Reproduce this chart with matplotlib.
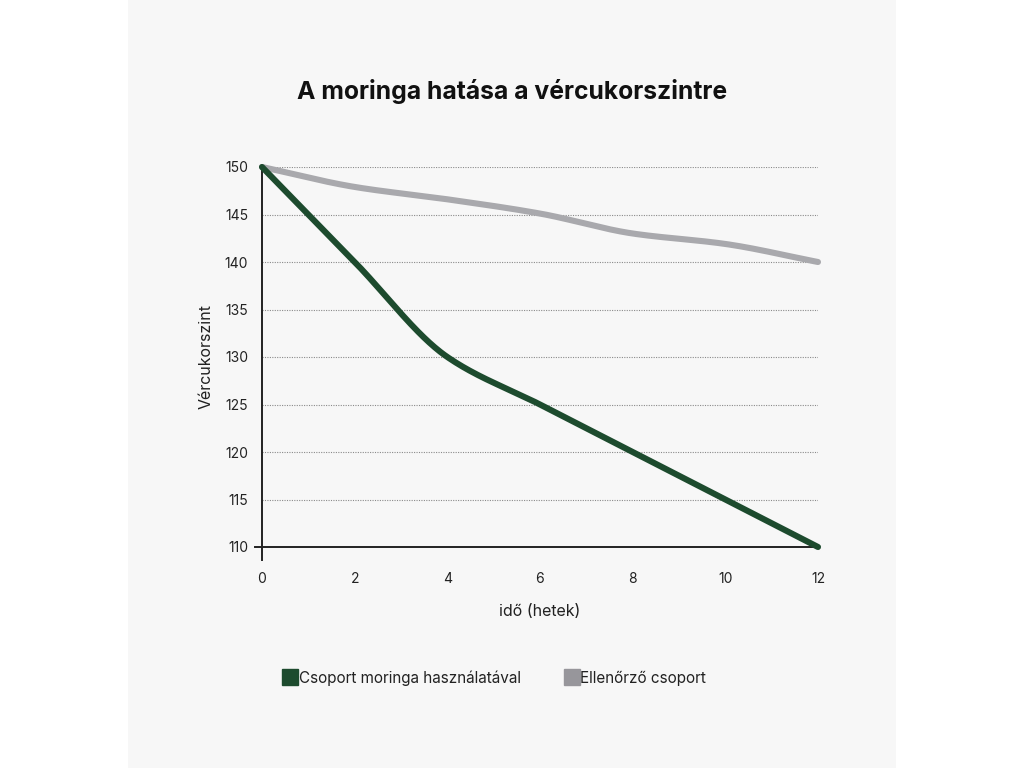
import numpy as np
import matplotlib
matplotlib.use("Agg")
import matplotlib.pyplot as plt
from matplotlib.lines import Line2D
from matplotlib.patches import Rectangle

plt.rcParams['font.family'] = ['Inter', 'DejaVu Sans']

# Data
weeks = [0, 2, 4, 6, 8, 10, 12]
moringa = [150, 140, 130, 125, 120, 115, 110]
control = [150, 147.9, 146.6, 145.1, 143, 141.9, 140]
x_ticks = [0, 2, 4, 6, 8, 10, 12]
y_ticks = [110, 115, 120, 125, 130, 135, 140, 145, 150]

title = "A moringa hatása a vércukorszintre"
x_label = "idő (hetek)"
y_label = "Vércukorszint"
series_names = ["Csoport moringa használatával", "Ellenőrző csoport"]

GREEN = "#1d4b2e"
GREY = "#a9a9ad"
GREY_LEG = "#97969b"
PANEL = "#f7f7f7"


def monotone_curve(x, y, n=400):
    """Fritsch-Carlson monotone cubic interpolation."""
    x = np.asarray(x, float)
    y = np.asarray(y, float)
    h = np.diff(x)
    d = np.diff(y) / h
    m = np.zeros_like(y)
    m[0], m[-1] = d[0], d[-1]
    for i in range(1, len(x) - 1):
        if d[i - 1] * d[i] <= 0:
            m[i] = 0
        else:
            w1 = 2 * h[i] + h[i - 1]
            w2 = h[i] + 2 * h[i - 1]
            m[i] = (w1 + w2) / (w1 / d[i - 1] + w2 / d[i])
    xs = np.linspace(x[0], x[-1], n)
    idx = np.clip(np.searchsorted(x, xs) - 1, 0, len(x) - 2)
    t = (xs - x[idx]) / h[idx]
    h00 = 2 * t**3 - 3 * t**2 + 1
    h10 = t**3 - 2 * t**2 + t
    h01 = -2 * t**3 + 3 * t**2
    h11 = t**3 - t**2
    ys = h00 * y[idx] + h10 * h[idx] * m[idx] + h01 * y[idx + 1] + h11 * h[idx] * m[idx + 1]
    return xs, ys


fig = plt.figure(figsize=(10.24, 7.68), dpi=100)
fig.patch.set_facecolor("white")
fig.patches.append(Rectangle((128 / 1024, 0), 768 / 1024, 1, transform=fig.transFigure,
                             facecolor=PANEL, edgecolor="none", zorder=-10))

ax = fig.add_axes([262 / 1024, 1 - 547 / 768, (818 - 262) / 1024, (547 - 167) / 768])
ax.set_zorder(1)
ax.set_facecolor("none")
ax.set_xlim(0, 12)
ax.set_ylim(110, 150)

for yv in y_ticks[1:]:
    ax.axhline(yv, color="#8a8a8a", linewidth=0.8, linestyle=(0, (1, 1.2)), zorder=1)

xs, ys = monotone_curve(weeks, control)
ax.plot(xs, ys, color=GREY, linewidth=4.4, solid_capstyle="round", zorder=3, clip_on=False)
xs, ys = monotone_curve(weeks, moringa)
ax.plot(xs, ys, color=GREEN, linewidth=4.4, solid_capstyle="round", zorder=4, clip_on=False)

for s in ["top", "right"]:
    ax.spines[s].set_visible(False)
for s in ["left", "bottom"]:
    ax.spines[s].set_color("#222222")
    ax.spines[s].set_linewidth(1.4)

# short extensions of the axis lines past the origin
ax.plot([0, 0], [0, -13 / 380], transform=ax.transAxes, color="#222222", lw=1.4, clip_on=False)
ax.plot([0, -7 / 556], [0, 0], transform=ax.transAxes, color="#222222", lw=1.4, clip_on=False)

ax.set_xticks(x_ticks)
ax.set_yticks(y_ticks)
ax.tick_params(axis="both", length=0, labelsize=10, labelcolor="#222222")
ax.tick_params(axis="x", pad=18)
ax.tick_params(axis="y", pad=10)

ax.set_xlabel(x_label, fontsize=11.5, color="#222222", labelpad=13)
ax.set_ylabel(y_label, fontsize=11.5, color="#222222", labelpad=8)

fig.text(512 / 1024, 1 - 92 / 768, title, ha="center", va="center",
         fontsize=17.8, fontweight="bold", color="#111111")

handles = [
    Line2D([], [], marker="s", linestyle="none", markersize=11.5, markerfacecolor=GREEN,
           markeredgecolor=GREEN),
    Line2D([], [], marker="s", linestyle="none", markersize=11.5, markerfacecolor=GREY_LEG,
           markeredgecolor=GREY_LEG),
]
fig.legend(handles, series_names, loc="center left",
           bbox_to_anchor=(269 / 1024, 1 - 678 / 768), ncol=2, frameon=False,
           fontsize=11, handletextpad=0.05, columnspacing=2.85, handlelength=1.0,
           labelcolor="#222222")

fig.savefig("out.png", dpi=100, facecolor=fig.get_facecolor())
